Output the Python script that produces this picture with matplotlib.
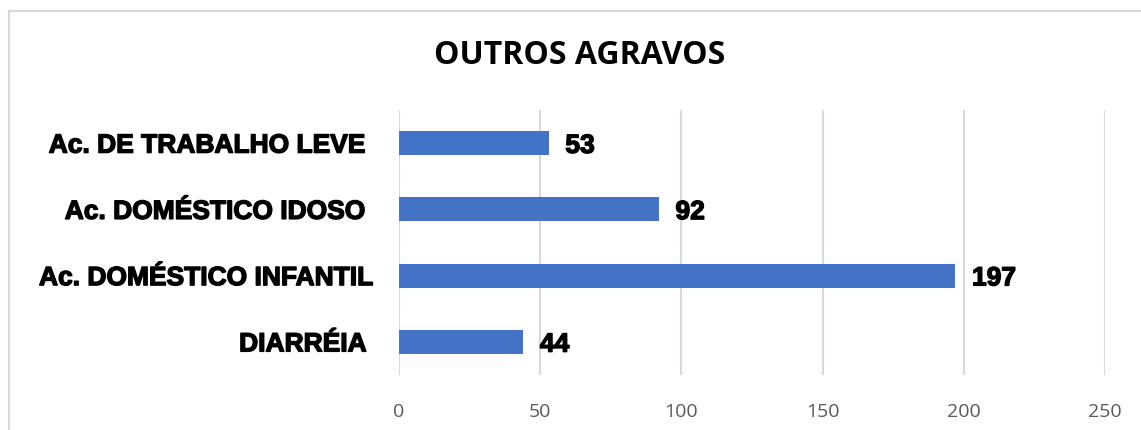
import matplotlib
matplotlib.use('Agg')
import matplotlib.pyplot as plt
import matplotlib.patheffects as pe
from matplotlib.lines import Line2D

# ── data ─────────────────────────────────────────────────────────────────────
categories = ['DIARRÉIA ', 'Ac. DOMÉSTICO INFANTIL', 'Ac. DOMÉSTICO IDOSO ', 'Ac. DE TRABALHO LEVE ']
values = [44, 197, 92, 53]
xticks = [0, 50, 100, 150, 200, 250]
title = 'OUTROS AGRAVOS'

BAR = '#4472C4'
GRID = '#D9D9D9'
TICK = '#595959'
heavy = [pe.withStroke(linewidth=1.0, foreground='black')]

W, H = 1141, 430
fig = plt.figure(figsize=(W / 100, H / 100), dpi=100)

# chart-area border (cropped on right and bottom)
fig.add_artist(Line2D([8.5 / W, 8.5 / W], [0, 1 - 11 / H], transform=fig.transFigure,
                      color=GRID, lw=1.5))
fig.add_artist(Line2D([8.5 / W, 1], [1 - 11 / H, 1 - 11 / H], transform=fig.transFigure,
                      color=GRID, lw=1.5))

ax = fig.add_axes([399 / W, 1 - 375 / H, (1105 - 399) / W, (375 - 110) / H])
y = list(range(len(categories)))
ax.barh(y, values, height=0.36, color=BAR, zorder=3)
ax.set_xlim(0, 250)
ax.set_ylim(-0.5, 3.5)
ax.set_xticks(xticks)
ax.xaxis.grid(True, color=GRID, lw=1.5, zorder=0)
for s in ax.spines.values():
    s.set_visible(False)
ax.tick_params(axis='x', length=0, pad=20, labelsize=14, labelcolor=TICK)
for lbl in ax.get_xticklabels():
    lbl.set_fontfamily('Open Sans')
ax.set_yticks(y)
ax.set_yticklabels(categories, fontsize=19, fontweight='bold', family='Liberation Sans')
for lbl in ax.get_yticklabels():
    lbl.set_path_effects(heavy)
ax.tick_params(axis='y', length=0, pad=19)

for yi, v in zip(y, values):
    ax.annotate(str(v), (v, yi), xytext=(12, -2), textcoords='offset points',
                ha='left', va='center', fontsize=19, fontweight='bold',
                family='Liberation Sans', color='black', path_effects=heavy)

fig.text(580 / W, 1 - 56 / H, title, ha='center', va='center', fontsize=23,
         fontweight='bold', family='Open Sans')

fig.savefig('out.png', dpi=100)
